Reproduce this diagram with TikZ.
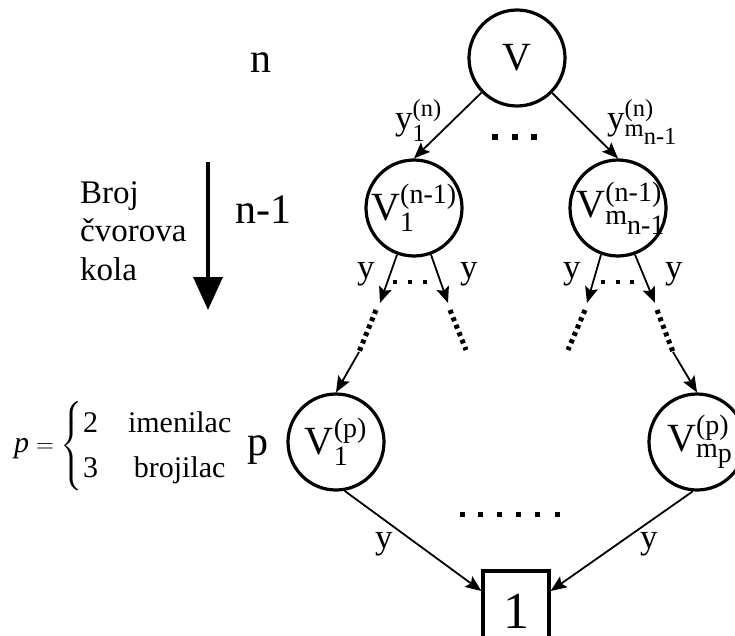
\documentclass[tikz,border=0pt]{standalone}
\usepackage{fontspec}
\setmainfont{Liberation Serif}
\usepackage{amsmath}
\usetikzlibrary{arrows.meta,calc}
\newcommand{\fsz}[1]{\fontsize{#1}{#1}\selectfont}
\newcommand{\vlab}[1]{\makebox[0pt]{#1}}

\begin{document}
\begin{tikzpicture}[x=1pt, y=-1pt,
  vtx/.style={draw, circle, line width=3.2pt, minimum size=96pt, inner sep=0pt, font=\fsz{40}},
  sink/.style={draw, line width=3.2pt, minimum width=66pt, minimum height=80pt, inner sep=0pt, font=\fsz{52}},
  lvl/.style={anchor=base west, inner sep=0pt, font=\fsz{42}},
  lab/.style={anchor=base west, inner sep=0pt, font=\fsz{35}},
  arr/.style={-{Stealth[length=16pt, width=13pt, inset=3pt]}, line width=1.8pt},
  brk/.style={line width=5pt, dash pattern=on 4pt off 4pt},
  big arr/.style={-{Triangle[length=33pt, width=29pt]}, line width=3.5pt},
]
  \useasboundingbox (0,0) rectangle (735,636);
  % levels
  \node[lvl] (ln)  at (250,73)  {n};
  \node[lvl] (ln1) at (235,223) {n-1};
  \node[lvl] (lp)  at (247,455) {p};
  \node[anchor=north west, inner sep=0pt, align=left, font=\fontsize{33}{38.5}\selectfont] (broj) at (80,181) {Broj\\čvorova\\kola};
  \coordinate (ktop) at (208,162);
  \coordinate (kbot) at (208,310);
  \draw[big arr] (ktop) -- (kbot);
  \node[anchor=west, inner sep=0pt, font=\fontsize{30}{32}\selectfont] (pdef) at (14,446)
    {\renewcommand{\arraystretch}{1.4}$\textit{p}=\left\{\begin{array}{@{}c@{\hspace{30pt}}c}\text{2}&\text{imenilac}\\\text{3}&\text{brojilac}\end{array}\right.$};
  % vertices
  \node[vtx] (V)   at (517,58)  {V};
  \node[vtx] (V1)  at (414,208) {\vlab{$\text{V}^{\text{(n-1)}}_{\text{1}}$}};
  \node[vtx] (Vm)  at (618,208) {\vlab{\hspace{6pt}$\text{V}^{\text{(n-1)}}_{\text{m}_{\scriptstyle\text{n-1}}}$}};
  \node[vtx] (Vp1) at (336,442) {\vlab{$\text{V}^{\text{(p)}}_{\text{1}}$}};
  \node[vtx] (Vpm) at (697,442) {\vlab{\hspace{6pt}$\text{V}^{\text{(p)}}_{\text{m}_{\scriptstyle\text{p}}}$}};
  \node[sink] (one) at (516,611) {1};
  % top edges
  \draw[arr] (V) -- (V1.north);
  \draw[arr] (V) -- (Vm.north);
  \node[lab] (ly1) at (395,130) {$\text{y}^{\text{(n)}}_{\text{1}}$};
  \node[lab] (lym) at (607,130) {$\text{y}^{\text{(n)}}_{\text{m}_{\scriptstyle\text{n-1}}}$};
  \foreach \x in {495,515,534} \fill (\x-3,134) rectangle ++(6,6);
  % second level edges
  \coordinate (a1) at (380,303); \coordinate (b1) at (376,310); \coordinate (c1) at (359,352);
  \coordinate (a2) at (448,303); \coordinate (b2) at (450,310); \coordinate (c2) at (466,350);
  \coordinate (a3) at (587,303); \coordinate (b3) at (585,310); \coordinate (c3) at (568,350);
  \coordinate (a4) at (655,303); \coordinate (b4) at (657,310); \coordinate (c4) at (673,352);
  \draw[arr] (V1.-110) -- (a1);
  \draw[arr] (V1.-70) -- (a2);
  \draw[arr] (Vm.-110) -- (a3);
  \draw[arr] (Vm.-70) -- (a4);
  \draw[brk] (b1) -- (c1);
  \draw[brk] (b2) -- (c2);
  \draw[brk] (b3) -- (c3);
  \draw[brk] (b4) -- (c4);
  \draw[arr] (c1) -- (Vp1.north);
  \draw[arr] (c4) -- (Vpm.north);
  \node[lab] (y1) at (357,278) {y};
  \node[lab] (y2) at (460,278) {y};
  \node[lab] (y3) at (563,278) {y};
  \node[lab] (y4) at (665,278) {y};
  \foreach \x in {395,410,425,603,618,632} \fill (\x-2,280) rectangle ++(4,4);
  % bottom edges
  \draw[arr] (Vp1.-80) -- (one.150);
  \draw[arr] (Vpm.-95) -- (one.30);
  \node[lab] (y5) at (375,548) {y};
  \node[lab] (y6) at (640,548) {y};
  \foreach \x in {462,480,499,518,537,557} \fill (\x-2.5,512) rectangle ++(5,5);
\end{tikzpicture}
\end{document}
